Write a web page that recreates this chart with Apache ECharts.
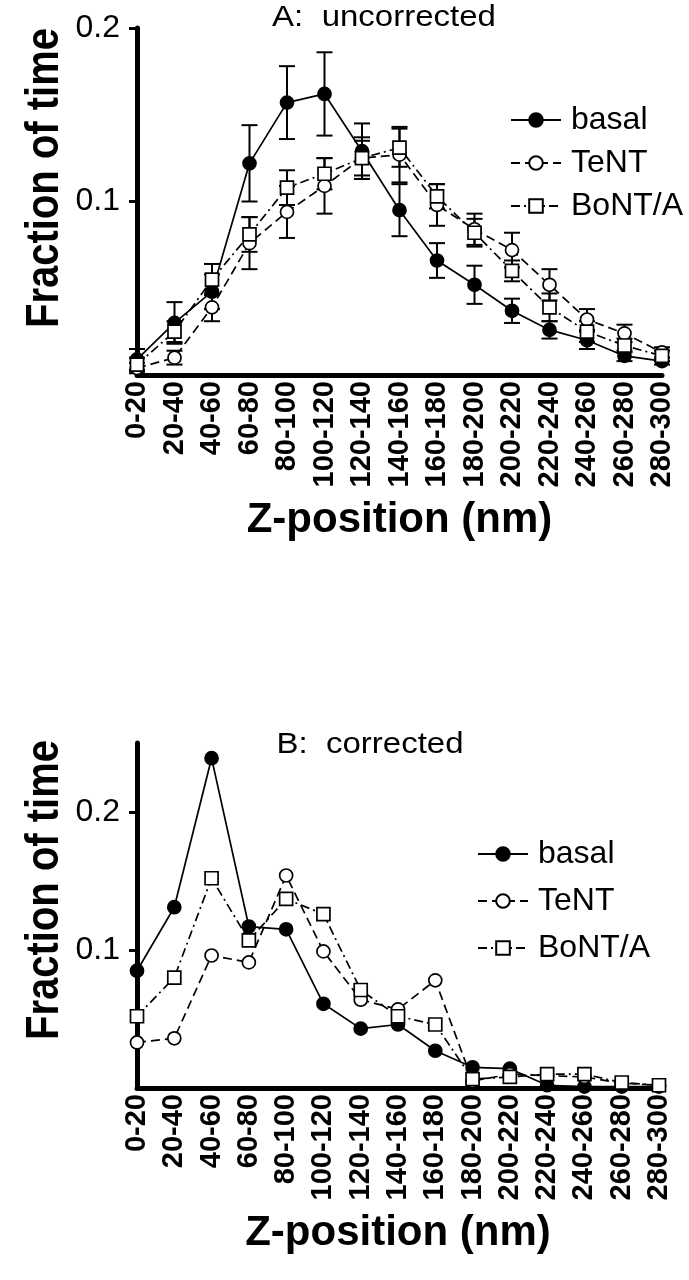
<!DOCTYPE html>
<html>
<head>
<meta charset="utf-8">
<script src="https://cdn.jsdelivr.net/npm/echarts@6/dist/echarts.min.js"></script>
<style>
html,body{margin:0;padding:0;background:#fff;}
#c{width:689px;height:1280px;}
</style>
</head>
<body>
<div id="c"></div>
<script>
const categories = ['0-20','20-40','40-60','60-80','80-100','100-120','120-140','140-160','160-180','180-200','200-220','220-240','240-260','260-280','280-300'];
const seriesNames = ['basal','TeNT','BoNT/A'];
const yTicks = [0.1, 0.2];

// Panel A: uncorrected (mean and SEM)
const basalA = [0.009, 0.030, 0.048, 0.122, 0.157, 0.162, 0.129, 0.095, 0.066, 0.052, 0.037, 0.026, 0.020, 0.011, 0.008];
const basalErrA = [0.006, 0.012, 0.010, 0.022, 0.021, 0.024, 0.016, 0.015, 0.010, 0.011, 0.007, 0.005, 0.005, 0.003, 0.002];
const tentA = [0.004, 0.010, 0.039, 0.076, 0.094, 0.109, 0.125, 0.127, 0.098, 0.084, 0.072, 0.052, 0.032, 0.024, 0.013];
const tentErrA = [0.003, 0.004, 0.008, 0.015, 0.015, 0.016, 0.012, 0.016, 0.012, 0.009, 0.010, 0.009, 0.006, 0.005, 0.003];
const bontA = [0.006, 0.025, 0.055, 0.081, 0.108, 0.116, 0.125, 0.131, 0.103, 0.082, 0.060, 0.039, 0.025, 0.017, 0.011];
const bontErrA = [0.004, 0.006, 0.009, 0.010, 0.010, 0.009, 0.010, 0.011, 0.007, 0.008, 0.006, 0.008, 0.006, 0.004, 0.003];

// Panel B: corrected
const basalB = [0.085, 0.131, 0.239, 0.117, 0.115, 0.061, 0.043, 0.046, 0.027, 0.015, 0.014, 0.002, 0.001, 0.001, 0.001];
const tentB = [0.033, 0.036, 0.096, 0.091, 0.154, 0.099, 0.064, 0.057, 0.078, 0.005, 0.010, 0.009, 0.008, 0.0035, 0.002];
const bontB = [0.052, 0.080, 0.152, 0.107, 0.137, 0.126, 0.071, 0.052, 0.046, 0.0065, 0.008, 0.010, 0.010, 0.004, 0.002];

const FONT = "'Liberation Sans', Arial, Helvetica, sans-serif";
const styles = {
  'basal': {symbol: 'circle', line: 'solid', fill: '#000'},
  'TeNT': {symbol: 'circle', line: [9, 5], fill: '#fff'},
  'BoNT/A': {symbol: 'rect', line: [9, 4, 2, 4], fill: '#fff'}
};

function lineSeries(name, data, gi) {
  const s = styles[name];
  return {
    type: 'line', name: name, data: data,
    xAxisIndex: gi, yAxisIndex: gi,
    symbol: s.symbol, symbolSize: 13, showAllSymbol: true,
    itemStyle: {color: s.fill, borderColor: '#000', borderWidth: 1.7, opacity: 1},
    lineStyle: {color: '#000', width: 1.7, type: s.line},
    emphasis: {disabled: true},
    animation: false, z: 3
  };
}

function errSeries(vals, errs) {
  return {
    type: 'custom', xAxisIndex: 0, yAxisIndex: 0, z: 2, animation: false,
    silent: true,
    data: vals.map((v, i) => [i, v - errs[i], v + errs[i]]),
    renderItem: function (params, api) {
      const i = api.value(0);
      const lo = api.coord([i, api.value(1)]);
      const hi = api.coord([i, api.value(2)]);
      const w = 8;
      const mk = (x1, y1, x2, y2) => ({type: 'line', shape: {x1, y1, x2, y2}, style: {stroke: '#000', lineWidth: 2, fill: null}});
      return {type: 'group', children: [
        mk(lo[0], lo[1], hi[0], hi[1]),
        mk(lo[0] - w, lo[1], lo[0] + w, lo[1]),
        mk(hi[0] - w, hi[1], hi[0] + w, hi[1])
      ]};
    }
  };
}

function xAxis(gi) {
  return {
    type: 'category', gridIndex: gi, data: categories, boundaryGap: false,
    axisLine: {lineStyle: {color: '#000', width: 5}},
    axisTick: {show: false},
    axisLabel: {rotate: 90, interval: 0, margin: 6, color: '#000', fontFamily: FONT, fontWeight: 'bold', fontSize: 29},
    splitLine: {show: false},
    name: 'Z-position (nm)', nameLocation: 'middle', nameGap: 124,
    nameTextStyle: {color: '#000', fontFamily: FONT, fontWeight: 'bold', fontSize: 42}
  };
}

function yAxis(gi, max, interval) {
  return {
    type: 'value', gridIndex: gi, min: 0, max: max, interval: interval,
    axisLine: {show: true, lineStyle: {color: '#000', width: 5}},
    axisTick: {show: true, inside: false, length: 8, lineStyle: {width: 3, color: '#000'}, customValues: yTicks},
    axisLabel: {color: '#000', fontFamily: FONT, fontSize: 32, margin: 17, customValues: yTicks},
    splitLine: {show: false}
  };
}

function legend(left, top, gap) {
  return {
    show: true, orient: 'vertical', left: left, top: top, itemGap: gap, padding: 0,
    itemWidth: 50, itemHeight: 17, selectedMode: false,
    data: seriesNames,
    textStyle: {color: '#000', fontFamily: FONT, fontSize: 32, lineHeight: 30, padding: [0, 0, 0, 5]}
  };
}

function label(text, x, y, font, rot, sx, sy) {
  return {type: 'text', x: x, y: y, rotation: rot, scaleX: sx, scaleY: sy,
    style: {text: text, font: font, fill: '#000', textAlign: 'center', align: 'center', textVerticalAlign: 'middle', verticalAlign: 'middle'}};
}

const chart = echarts.init(document.getElementById('c'), null, {renderer: 'canvas'});
chart.setOption({
  backgroundColor: '#fff',
  animation: false,
  grid: [
    {left: 137, right: 27, top: 28, height: 347},
    {left: 137, right: 30, top: 743, height: 345}
  ],
  xAxis: [xAxis(0), xAxis(1)],
  yAxis: [yAxis(0, 0.2, 0.1), yAxis(1, 0.25, 0.05)],
  legend: [legend(510, 104, 11), legend(477, 838, 15)],
  graphic: [
    label('A:  uncorrected', 384, 18, '30px ' + FONT, 0, 1.1, 1),
    label('B:  corrected', 370, 745, '30px ' + FONT, 0, 1.1, 1),
    label('Fraction of time', 45, 178, 'bold 40px ' + FONT, Math.PI / 2, 1, 1.15),
    label('Fraction of time', 45, 890, 'bold 40px ' + FONT, Math.PI / 2, 1, 1.15)
  ],
  series: [
    errSeries(basalA, basalErrA),
    errSeries(tentA, tentErrA),
    errSeries(bontA, bontErrA),
    lineSeries('basal', basalA, 0),
    lineSeries('TeNT', tentA, 0),
    lineSeries('BoNT/A', bontA, 0),
    lineSeries('basal', basalB, 1),
    lineSeries('TeNT', tentB, 1),
    lineSeries('BoNT/A', bontB, 1)
  ]
});
</script>
</body>
</html>
